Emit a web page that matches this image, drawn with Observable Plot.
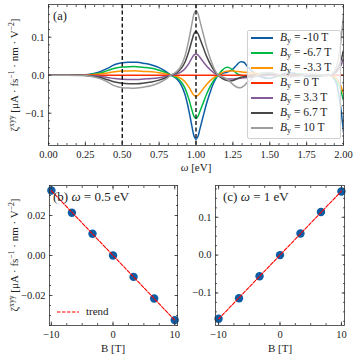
<!DOCTYPE html>
<html><head><meta charset="utf-8">
<script src="https://cdn.jsdelivr.net/npm/d3@7"></script>
<script src="https://cdn.jsdelivr.net/npm/@observablehq/plot@0.6"></script>
<style>
body{margin:0;background:#fff;}
#fig{position:relative;width:357px;height:357px;overflow:hidden;font-family:'Liberation Serif','DejaVu Serif',serif;color:#222;}
#fig > svg{position:absolute;}
.lbl{position:absolute;white-space:nowrap;font-size:10.5px;line-height:1;}
.ylab{transform:translate(-50%,-50%) rotate(-90deg);}
.xlab{transform:translate(-50%,-50%);}
.sup{font-size:70%;position:relative;top:-0.5em;}
.sub{font-size:70%;position:relative;top:0.3em;}
.legend{position:absolute;left:247px;top:30px;width:94px;height:109px;background:rgba(255,255,255,0.8);border:1px solid #d0d0d0;border-radius:2px;box-sizing:border-box;}
.sw{position:absolute;left:3px;width:22px;height:2px;}
.lt{position:absolute;left:32px;font-size:11.5px;white-space:nowrap;line-height:1;}
</style>
</head><body>
<div id="fig"></div>
<script>
const omega = [0,0.1,0.2,0.25,0.3,0.35,0.4,0.45,0.5,0.55,0.6,0.65,0.7,0.75,0.8,0.825,
  0.85,0.875,0.9,0.925,0.95,0.975,0.9875,1.0,1.0125,1.025,1.05,1.075,1.1,1.125,1.15,
  1.175,1.2,1.225,1.25,1.275,1.3,1.325,1.35,
  1.4,1.45,1.5,1.55,1.6,1.65,1.7,1.75,1.8,1.85,1.9,
  1.925,1.95,1.975,2.0];
const zetaBm10 = [0,0,0.0005,0.001,0.004,0.009,0.018,0.028,0.033,0.034,0.034,0.031,0.027,0.020,0.009,0.001,
  -0.004,-0.012,-0.026,-0.050,-0.090,-0.140,-0.161,-0.169,-0.162,-0.144,-0.106,-0.070,-0.040,-0.016,0.000,
  0.004,0.007,0.010,0.016,0.026,0.035,0.034,0.022,
  0.004,-0.006,-0.008,-0.003,0.004,0.006,0.002,-0.003,-0.004,-0.001,0.001,
  -0.004,-0.020,-0.068,-0.150];
const zetaBm67 = [0,0,0.0003,0.0007,0.003,0.006,0.012,0.018,0.0215,0.0225,0.0225,0.0205,0.018,0.013,0.006,0.001,
  -0.003,-0.008,-0.018,-0.034,-0.061,-0.095,-0.109,-0.114,-0.109,-0.097,-0.072,-0.047,-0.027,-0.011,0.000,
  0.012,0.020,0.020,0.013,0.005,0.000,-0.002,-0.001,
  0.003,0.005,0.003,-0.002,-0.004,0.000,0.003,0.002,-0.001,-0.002,0.000,
  -0.003,-0.012,-0.032,-0.067];
const zetaBm33 = [0,0,0.0002,0.0003,0.0013,0.003,0.006,0.009,0.011,0.0113,0.0113,0.010,0.009,0.0066,0.003,0.0003,
  -0.001,-0.004,-0.009,-0.017,-0.030,-0.047,-0.0535,-0.056,-0.0535,-0.048,-0.035,-0.023,-0.013,-0.005,0.000,
  0.006,0.010,0.011,0.011,0.010,0.009,0.008,0.007,
  0.005,0.002,0.000,-0.001,0.000,0.001,0.001,0.000,-0.001,0.000,0.000,
  -0.002,-0.008,-0.022,-0.049];
const zetaB0 = [0,0,0,0,0,0,0,0,0,0,0,0,0,0,0,0,
  0,0,0,0,0,0,0,0,0,0,0,0,0,0,0,
  0,0,0,0,0,0,0,0,
  0,0,0,0,0,0,0,0,0,0,0,
  0,0,0,0];
const zetaBp33 = [0,0,-0.0002,-0.0003,-0.0013,-0.003,-0.006,-0.009,-0.011,-0.0113,-0.0113,-0.010,-0.009,-0.0066,-0.003,-0.0003,
  0.001,0.004,0.009,0.017,0.030,0.047,0.0535,0.056,0.0535,0.048,0.035,0.023,0.013,0.005,0.000,
  -0.006,-0.009,-0.010,-0.010,-0.009,-0.008,-0.007,-0.006,
  -0.004,-0.002,0.000,0.001,0.000,-0.001,-0.001,0.000,0.001,0.000,0.000,
  0.002,0.008,0.020,0.044];
const zetaBp67 = [0,0,-0.0003,-0.0007,-0.003,-0.006,-0.012,-0.018,-0.0215,-0.0225,-0.0225,-0.0205,-0.018,-0.013,-0.006,-0.001,
  0.003,0.008,0.018,0.034,0.061,0.095,0.110,0.115,0.110,0.098,0.072,0.047,0.027,0.011,0.000,
  -0.008,-0.013,-0.015,-0.014,-0.010,-0.006,-0.004,-0.003,
  -0.002,0.001,0.003,0.002,-0.001,-0.002,0.000,0.002,0.001,-0.001,0.000,
  0.003,0.011,0.030,0.065];
const zetaBp10 = [0,0,-0.0005,-0.001,-0.004,-0.009,-0.018,-0.028,-0.033,-0.034,-0.034,-0.031,-0.027,-0.020,-0.009,-0.001,
  0.004,0.012,0.026,0.050,0.090,0.141,0.162,0.170,0.163,0.145,0.107,0.070,0.040,0.016,0.000,
  -0.004,-0.008,-0.015,-0.024,-0.031,-0.033,-0.028,-0.018,
  -0.004,0.005,0.007,0.003,-0.003,-0.005,-0.002,0.002,0.003,0.001,-0.001,
  0.004,0.020,0.068,0.158];
const fieldLabels = ["-10 T","-6.7 T","-3.3 T","0 T","3.3 T","6.7 T","10 T"];
const lineColors = ["#0C5DA5","#00B945","#FF9500","#FF2C00","#845B97","#474747","#9e9e9e"];
const fieldB = [-10,-6.67,-3.33,0,3.33,6.67,10];
const zetaAt05 = [0.0325,0.0214,0.0109,0,-0.0107,-0.0215,-0.0323];
const zetaAt1 = [-0.168,-0.114,-0.056,0,0.057,0.114,0.168];
const markerOmega = [0.5, 1.0];
const topXTicks = [0,0.25,0.5,0.75,1,1.25,1.5,1.75,2];
const topYTicks = [-0.1,0,0.1];
const bXTicks = [-10,0,10];
const bYTicks = [-0.02,0,0.02];
const cYTicks = [-0.1,0,0.1];

const allSeries = [zetaBm10,zetaBm67,zetaBm33,zetaB0,zetaBp33,zetaBp67,zetaBp10];
const fig = document.getElementById("fig");
const style = {fontFamily:"'Liberation Serif','DejaVu Serif',serif", fontSize:"10.5px", background:"transparent", color:"#222", overflow:"visible"};
const axisStroke = "#333";

function frameAxes(xMajor, xMinor, yMajor, yMinor, xFmt, yFmt) {
  const common = {fill:"none", stroke:axisStroke, strokeWidth:0.8, label:null};
  return [
    Plot.axisX({...common, ticks:xMajor, anchor:"bottom", tickSize:-3.5}),
    Plot.axisX({...common, ticks:xMinor, anchor:"bottom", tickSize:-2}),
    Plot.axisX({...common, ticks:xMajor, anchor:"top", tickSize:-3.5}),
    Plot.axisX({...common, ticks:xMinor, anchor:"top", tickSize:-2}),
    Plot.axisY({...common, ticks:yMajor, anchor:"left", tickSize:-3.5}),
    Plot.axisY({...common, ticks:yMinor, anchor:"left", tickSize:-2}),
    Plot.axisY({...common, ticks:yMajor, anchor:"right", tickSize:-3.5}),
    Plot.axisY({...common, ticks:yMinor, anchor:"right", tickSize:-2}),
    Plot.axisX({ticks:xMajor, anchor:"bottom", tickSize:0, tickPadding:5, tickFormat:xFmt, label:null, fill:"#222"}),
    Plot.axisY({ticks:yMajor, anchor:"left", tickSize:0, tickPadding:4, tickFormat:yFmt, label:null, fill:"#222"}),
    Plot.frame({stroke:axisStroke, strokeWidth:0.8})
  ];
}
function place(svg, left, top) { svg.style.left = left + "px"; svg.style.top = top + "px"; fig.appendChild(svg); }
function label(html, x, y, cls, size) {
  const d = document.createElement("div");
  d.className = "lbl " + (cls || "");
  d.style.left = x + "px"; d.style.top = y + "px";
  if (size) d.style.fontSize = size + "px";
  d.innerHTML = html; fig.appendChild(d); return d;
}

// Panel (a)
const lineMarks = allSeries.map((vals, i) =>
  Plot.line(omega.map((w, j) => ({w, z: vals[j]})), {x:"w", y:"z", stroke:lineColors[i], strokeWidth:1.5, curve:"catmull-rom", clip:true}));
const pa = Plot.plot({
  width:357, height:175, marginLeft:48, marginRight:14, marginTop:4, marginBottom:30,
  style,
  x:{domain:[0,2]}, y:{domain:[-0.185,0.186]},
  marks:[
    ...lineMarks,
    Plot.ruleX(markerOmega, {stroke:"#000", strokeWidth:1.3, strokeDasharray:"4,2.5"}),
    ...frameAxes(topXTicks, d3.range(0,2.001,0.0625), topYTicks, d3.range(-0.18,0.181,0.02), d3.format(".2f"), d3.format(".1f"))
  ]
});
place(pa, 0, 0);

// Panel (b)
const dataB = fieldB.map((b, i) => ({b, z: zetaAt05[i]}));
const pb = Plot.plot({
  width:182, height:177, marginLeft:49, marginRight:5, marginTop:5, marginBottom:32,
  style,
  x:{domain:[-10.3,10.45]}, y:{domain:[-0.035,0.035]},
  marks:[
    Plot.dot(dataB, {x:"b", y:"z", r:4.2, fill:"#0C5DA5"}),
    Plot.linearRegressionY(dataB, {x:"b", y:"z", stroke:"#ff0000", strokeWidth:1.1, strokeDasharray:"3.5,1.5", ci:0}),
    ...frameAxes(bXTicks, d3.range(-10,10.01,2.5), bYTicks, d3.range(-0.035,0.0351,0.005), d3.format("d"), d3.format(".2f"))
  ]
});
place(pb, 0, 180);

// Panel (c)
const dataC = fieldB.map((b, i) => ({b, z: zetaAt1[i]}));
const pc = Plot.plot({
  width:175, height:177, marginLeft:33, marginRight:13, marginTop:5, marginBottom:32,
  style,
  x:{domain:[-10.5,10.5]}, y:{domain:[-0.186,0.184]},
  marks:[
    Plot.dot(dataC, {x:"b", y:"z", r:4.2, fill:"#0C5DA5"}),
    Plot.linearRegressionY(dataC, {x:"b", y:"z", stroke:"#ff0000", strokeWidth:1.1, strokeDasharray:"3.5,1.5", ci:0}),
    ...frameAxes(bXTicks, d3.range(-10,10.01,2.5), cYTicks, d3.range(-0.175,0.1751,0.025), d3.format("d"), d3.format(".1f"))
  ]
});
place(pc, 182, 180);

// Text
const yTitle = "ζ<span class='sup'>xyy</span> [μA · fs<span class='sup'>−1</span> · nm · V<span class='sup'>−2</span>]";
label(yTitle, 14, 75, "ylab", 11);
label(yTitle, 14, 255, "ylab", 11);
label("<i>ω</i> [eV]", 196, 167, "xlab", 11);
label("B [T]", 113, 348, "xlab", 11);
label("B [T]", 280, 348, "xlab", 11);
label("(a)", 53, 10, "", 12.5);
label("(b) <i>ω</i> = 0.5 eV", 53, 190, "", 13);
label("(c) <i>ω</i> = 1 eV", 223, 190, "", 13);

// Legend (a)
const lg = document.createElement("div"); lg.className = "legend"; fig.appendChild(lg);
fieldLabels.forEach((t, i) => {
  const cy = 7 + 15 * i;
  const sw = document.createElement("div"); sw.className = "sw";
  sw.style.top = (cy - 1) + "px"; sw.style.background = lineColors[i]; lg.appendChild(sw);
  const tx = document.createElement("div"); tx.className = "lt";
  tx.style.top = (cy - 6.5) + "px";
  tx.innerHTML = "<i>B</i><span class='sub'>y</span> = " + t; lg.appendChild(tx);
});
// Legend (b)
const ns = "http://www.w3.org/2000/svg";
const tsv = document.createElementNS(ns, "svg");
tsv.setAttribute("width", "22"); tsv.setAttribute("height", "4");
tsv.style.cssText = "position:absolute;left:57px;top:310px;";
const tl = document.createElementNS(ns, "line");
tl.setAttribute("x1", "0"); tl.setAttribute("x2", "22"); tl.setAttribute("y1", "2"); tl.setAttribute("y2", "2");
tl.setAttribute("stroke", "#ff0000"); tl.setAttribute("stroke-width", "1.2"); tl.setAttribute("stroke-dasharray", "3.5,1.5");
tsv.appendChild(tl); fig.appendChild(tsv);
label("trend", 86, 306, "", 11);
</script>
</body></html>
